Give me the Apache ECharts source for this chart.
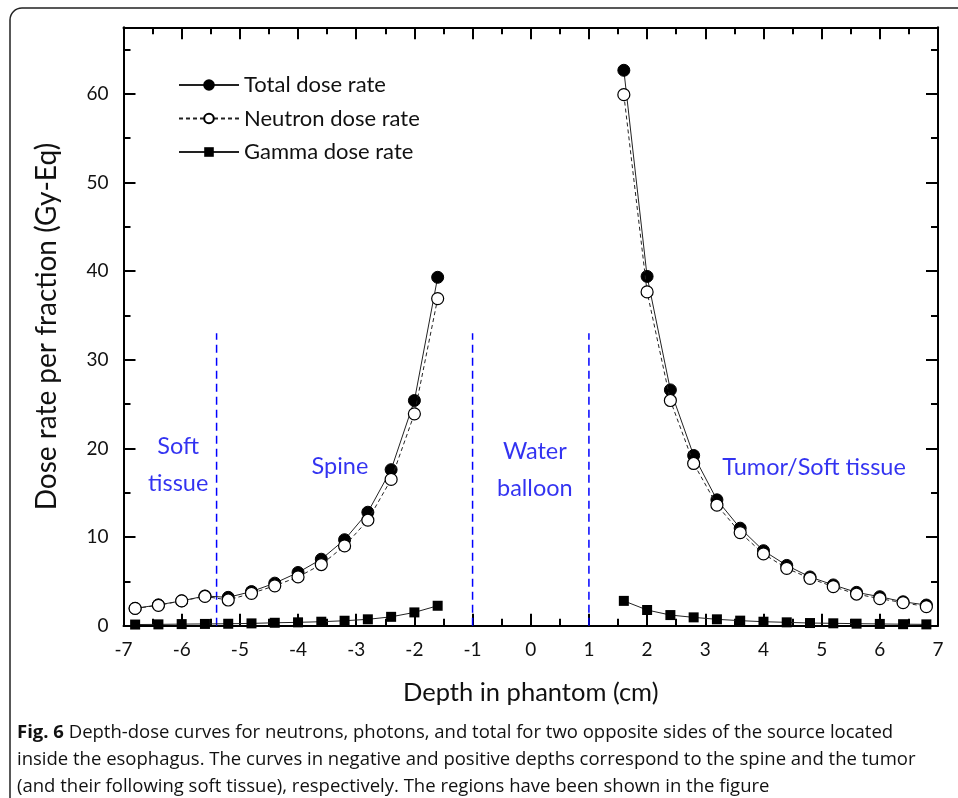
<!DOCTYPE html>
<html>
<head>
<meta charset="utf-8">
<script src="https://cdn.jsdelivr.net/npm/echarts@6/dist/echarts.min.js"></script>
<style>
html,body{margin:0;padding:0;background:#fff;}
#c{width:958px;height:798px;}
</style>
</head>
<body>
<div id="c"></div>
<script>
// ---- data ----
const depthNeg = [-6.8,-6.4,-6.0,-5.6,-5.2,-4.8,-4.4,-4.0,-3.6,-3.2,-2.8,-2.4,-2.0,-1.6];
const totalNeg = [1.95,2.35,2.8,3.35,3.2,3.85,4.8,6.0,7.5,9.7,12.8,17.6,25.4,39.3];
const neutronNeg = [1.95,2.3,2.8,3.3,2.9,3.65,4.5,5.5,6.9,9.0,11.9,16.5,23.9,36.9];
const gammaNeg = [0.13,0.15,0.18,0.2,0.22,0.26,0.33,0.38,0.45,0.56,0.72,1.0,1.5,2.25];

const depthPos = [1.6,2.0,2.4,2.8,3.2,3.6,4.0,4.4,4.8,5.2,5.6,6.0,6.4,6.8];
const totalPos = [62.65,39.4,26.6,19.2,14.2,11.0,8.46,6.8,5.5,4.6,3.76,3.27,2.7,2.33];
const neutronPos = [59.9,37.65,25.4,18.3,13.6,10.5,8.1,6.47,5.34,4.4,3.57,3.05,2.6,2.15];
const gammaPos = [2.8,1.77,1.2,0.94,0.72,0.57,0.45,0.38,0.3,0.27,0.23,0.2,0.17,0.15];

const seriesNames = ['Total dose rate','Neutron dose rate','Gamma dose rate'];
const regionBoundaries = [-5.4,-1,1];
const regionBoundaryTop = 33;
const regionNames = ['Soft\ntissue','Spine','Water\nballoon','Tumor/Soft tissue'];
const xTicks = [-7,-6,-5,-4,-3,-2,-1,0,1,2,3,4,5,6,7];
const yTicks = [0,10,20,30,40,50,60];
const xTitle = 'Depth in phantom (cm)';
const yTitle = 'Dose rate per fraction (Gy-Eq)';
const captionBold = 'Fig. 6';
const captionLines = [
 ' Depth-dose curves for neutrons, photons, and total for two opposite sides of the source located',
 'inside the esophagus. The curves in negative and positive depths correspond to the spine and the tumor',
 '(and their following soft tissue), respectively. The regions have been shown in the figure'
];

const zip = (xs, ys) => xs.map((x,i)=>[x, ys[i]]);

const chart = echarts.init(document.getElementById('c'), null, {renderer:'canvas'});
const FONT = 'Lato, "Open Sans", sans-serif';
const CAP = '"Open Sans", sans-serif';
const capSize = 18.5;

function lineSeries(name, data, kind){
  const s = {
    name, type:'line', data, xAxisIndex:0, yAxisIndex:0,
    animation:false, symbolSize:12, z:3
  };
  if(kind==='total'){
    s.symbol='circle';
    s.itemStyle={color:'#000', borderColor:'#000', borderWidth:1};
    s.lineStyle={color:'#222', width:1, type:'solid'};
  } else if(kind==='neutron'){
    s.symbol='circle';
    s.itemStyle={color:'#fff', borderColor:'#000', borderWidth:1.2};
    s.lineStyle={color:'#222', width:1, type:[4,3]};
    s.z=4;
  } else {
    s.symbol='rect'; s.symbolSize=10;
    s.itemStyle={color:'#000', borderColor:'#000', borderWidth:0};
    s.lineStyle={color:'#222', width:1, type:'solid'};
  }
  return s;
}

const series = [
  lineSeries(seriesNames[0], zip(depthNeg,totalNeg), 'total'),
  lineSeries(seriesNames[0], zip(depthPos,totalPos), 'total'),
  lineSeries(seriesNames[1], zip(depthNeg,neutronNeg), 'neutron'),
  lineSeries(seriesNames[1], zip(depthPos,neutronPos), 'neutron'),
  lineSeries(seriesNames[2], zip(depthNeg,gammaNeg), 'gamma'),
  lineSeries(seriesNames[2], zip(depthPos,gammaPos), 'gamma')
];

regionBoundaries.forEach(b=>{
  series.push({
    type:'line', data:[[b,0],[b,regionBoundaryTop]], symbol:'none', animation:false,
    lineStyle:{color:'#0000ff', width:1.5, type:[8,5]}, z:2, silent:true
  });
});

// region labels (anchored in data coordinates)
const labelAnchors = [[-6.06,18.1],[-3.28,18.0],[0.07,17.6],[4.87,17.9]];
series.push({
  type:'scatter', symbolSize:0, animation:false, silent:true,
  data: regionNames.map((n,i)=>({name:n, value:labelAnchors[i]})),
  label:{show:true, position:'inside', formatter:p=>p.name, color:'#0000ee',
    fontFamily:FONT, fontSize:23.5, lineHeight:37, align:'center', verticalAlign:'middle'}
});

const xCommon = {type:'value', min:-7, max:7, interval:1};
const yCommon = {type:'value', min:0, max:67.5};

chart.setOption({
  animation:false,
  grid:{left:123.5, right:20, top:27.3, bottom:172.3, containLabel:false},
  legend:{
    data:seriesNames, orient:'vertical', left:173, top:69, itemWidth:60, itemHeight:12,
    itemGap:11.5, textStyle:{fontFamily:FONT, fontSize:22, color:'#111'}, selectedMode:false
  },
  xAxis:[
    Object.assign({}, xCommon, {position:'bottom',
      axisLine:{show:true, onZero:false, lineStyle:{color:'#000', width:2}},
      axisTick:{show:true, inside:true, length:12, lineStyle:{color:'#000', width:2}},
      minorTick:{show:true, splitNumber:2, length:7, lineStyle:{color:'#000', width:2}},
      splitLine:{show:false},
      axisLabel:{margin:15, fontFamily:FONT, fontSize:19, color:'#111',
        formatter:v=> xTicks.includes(v)? String(v):''},
      name:xTitle, nameLocation:'middle', nameGap:54,
      nameTextStyle:{fontFamily:FONT, fontSize:25.5, color:'#111'}
    }),
    Object.assign({}, xCommon, {position:'top',
      axisLine:{show:true, onZero:false, lineStyle:{color:'#000', width:2}},
      axisTick:{show:true, inside:true, length:12, lineStyle:{color:'#000', width:2}},
      minorTick:{show:true, splitNumber:2, length:7, lineStyle:{color:'#000', width:2}},
      splitLine:{show:false}, axisLabel:{show:false}
    })
  ],
  yAxis:[
    Object.assign({}, yCommon, {position:'left', interval:10,
      axisLine:{show:true, onZero:false, lineStyle:{color:'#000', width:2}},
      axisTick:{show:true, inside:true, length:12, lineStyle:{color:'#000', width:2}},
      splitLine:{show:false},
      axisLabel:{margin:15, fontFamily:FONT, fontSize:19, color:'#111', showMaxLabel:false,
        formatter:v=> yTicks.includes(v)? String(v):''},
      name:yTitle, nameLocation:'middle', nameGap:63,
      nameTextStyle:{fontFamily:FONT, fontSize:28, color:'#111'}
    }),
    Object.assign({}, yCommon, {position:'left', interval:5,
      axisLine:{show:false, onZero:false}, axisTick:{show:true, inside:true, length:7, lineStyle:{color:'#000', width:2}},
      splitLine:{show:false}, axisLabel:{show:false}
    }),
    Object.assign({}, yCommon, {position:'right', interval:10,
      axisLine:{show:true, onZero:false, lineStyle:{color:'#000', width:2}},
      axisTick:{show:true, inside:true, length:12, lineStyle:{color:'#000', width:2}},
      splitLine:{show:false}, axisLabel:{show:false}
    }),
    Object.assign({}, yCommon, {position:'right', interval:5,
      axisLine:{show:false, onZero:false}, axisTick:{show:true, inside:true, length:7, lineStyle:{color:'#000', width:2}},
      splitLine:{show:false}, axisLabel:{show:false}
    })
  ],
  series,
  graphic:[
    {type:'rect', shape:{x:10, y:8, width:980, height:820, r:12}, silent:true, z:-10,
      style:{fill:'none', stroke:'#222', lineWidth:1.5}},
    {type:'text', left:17, top:723, silent:true,
      style:{text:'{b|'+captionBold+'}{n|'+captionLines[0]+'}',
        rich:{b:{fontFamily:CAP, fontWeight:'bold', fontSize:capSize, fill:'#111'},
              n:{fontFamily:CAP, fontSize:capSize, fill:'#111'}}}},
    {type:'text', left:17, top:750, silent:true,
      style:{text:captionLines[1], fontFamily:CAP, fontSize:capSize, fill:'#111'}},
    {type:'text', left:17, top:777, silent:true,
      style:{text:captionLines[2], fontFamily:CAP, fontSize:capSize, fill:'#111'}}
  ]
});
</script>
</body>
</html>
